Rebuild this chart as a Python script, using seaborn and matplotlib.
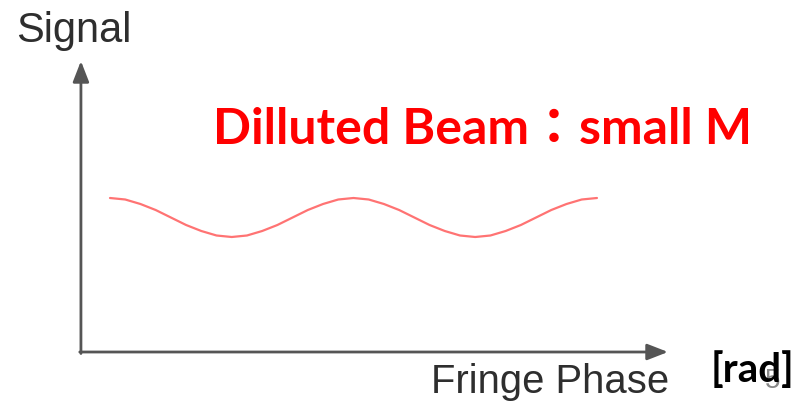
import numpy as np
import matplotlib
matplotlib.use("Agg")
import matplotlib.pyplot as plt
import seaborn as sns
import pandas as pd

# values: phase in rad, signal in arbitrary units
phase = [i * np.pi / 8 for i in range(33)]
signal = [1.54, 1.525, 1.48, 1.42, 1.345, 1.27, 1.21, 1.165,
          1.15, 1.165, 1.21, 1.27, 1.345, 1.42, 1.48, 1.525,
          1.54, 1.525, 1.48, 1.42, 1.345, 1.27, 1.21, 1.165,
          1.15, 1.165, 1.21, 1.27, 1.345, 1.42, 1.48, 1.525, 1.54]

x_label = "Fringe Phase"
y_label = "Signal"
title = "Dilluted Beam\uff1asmall M"
unit = "[rad]"
page = "5"

df = pd.DataFrame({"phase": phase, "signal": signal})

sns.set_style("white")
plt.rcParams['font.family'] = ['Liberation Sans', 'DejaVu Sans']

fig = plt.figure(figsize=(8.11, 4.02), dpi=100)
ax = fig.add_axes([0, 0, 1, 1])
ax.set_xlim(-110 / 38.75, (811 - 110) / 38.75)
ax.set_ylim(-0.49, 3.53)
ax.axis("off")

sns.lineplot(data=df, x="phase", y="signal", ax=ax, color="#ff7373", lw=1.6)

# axes with arrowheads
x0, y0 = -0.75, 0.0
style = "-|>,head_length=0.9,head_width=0.35"
ax.annotate("", xy=(14.4, y0), xytext=(x0 - 0.03, y0),
            arrowprops=dict(arrowstyle=style, color="#555555", lw=2,
                            shrinkA=0, shrinkB=0, mutation_scale=14))
ax.annotate("", xy=(x0, 2.91), xytext=(x0, y0 - 0.015),
            arrowprops=dict(arrowstyle=style, color="#555555", lw=2,
                            shrinkA=0, shrinkB=0, mutation_scale=14))

fig.text(16 / 811, (402 - 42) / 402, y_label, fontsize=30, color="#2e2e2e",
         va="baseline", ha="left")
fig.text(431 / 811, (402 - 393) / 402, x_label, fontsize=28.8, color="#2e2e2e",
         va="baseline", ha="left")
fig.text(213 / 811, (402 - 144) / 402, title, fontsize=36, color="#ff0000",
         fontweight="bold", family=['Lato', 'Noto Sans CJK TC', 'DejaVu Sans'],
         va="baseline", ha="left")
fig.text(765 / 811, (402 - 388) / 402, page, fontsize=20, color="#888888",
         va="baseline", ha="left", zorder=1)
fig.text(711 / 811, (402 - 382) / 402, unit, fontsize=29, color="black",
         fontweight="bold", family=['Lato', 'DejaVu Sans'],
         va="baseline", ha="left", zorder=2)

plt.savefig("out.png", dpi=100)
